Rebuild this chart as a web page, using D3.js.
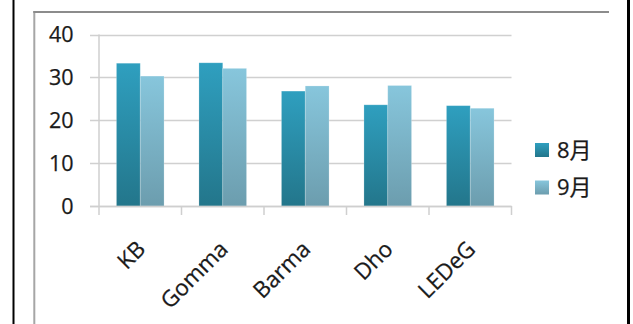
<!DOCTYPE html>
<html>
<head>
<meta charset="utf-8">
<script src="https://cdn.jsdelivr.net/npm/d3@7"></script>
<style>
  html, body { margin: 0; padding: 0; background: #fff; }
  svg { display: block; }
  text { font-family: "Open Sans", "Noto Sans CJK SC", sans-serif; fill: #1a1a1a; stroke: #1a1a1a; stroke-width: 0.25px; }
</style>
</head>
<body>
<svg id="chart" width="633" height="324"></svg>
<script>
// Monthly values per site
const categories = ["KB", "Gomma", "Barma", "Dho", "LEDeG"];
const seriesNames = ["8月", "9月"];
const augustValues = [33.3, 33.4, 26.8, 23.6, 23.4];
const septemberValues = [30.3, 32.1, 28.0, 28.1, 22.8];
const yTicks = [0, 10, 20, 30, 40];

const seriesValues = [augustValues, septemberValues];
const gradients = [
  { id: "grad-aug", top: "#2f9fbf", bottom: "#23768b" },
  { id: "grad-sep", top: "#87c6dc", bottom: "#6c9dae" }
];

const svg = d3.select("#chart");
const W = 633, H = 324;

// Gradient fills for the bars and legend swatches
const defs = svg.append("defs");
gradients.forEach(g => {
  const lg = defs.append("linearGradient")
    .attr("id", g.id).attr("x1", 0).attr("y1", 0).attr("x2", 0).attr("y2", 1);
  lg.append("stop").attr("offset", "0%").attr("stop-color", g.top);
  lg.append("stop").attr("offset", "100%").attr("stop-color", g.bottom);
});

// Outer page frame and inner chart frame
svg.append("line").attr("x1", 13.5).attr("x2", 13.5).attr("y1", 0).attr("y2", H)
  .attr("stroke", "#000").attr("stroke-width", 2);
svg.append("line").attr("x1", 628.5).attr("x2", 628.5).attr("y1", 0).attr("y2", H)
  .attr("stroke", "#000").attr("stroke-width", 3);
svg.append("line").attr("x1", 34.3).attr("x2", 34.3).attr("y1", 11).attr("y2", H)
  .attr("stroke", "#a6a6a6").attr("stroke-width", 2);
svg.append("line").attr("x1", 33.3).attr("x2", 609).attr("y1", 12).attr("y2", 12)
  .attr("stroke", "#8c8c8c").attr("stroke-width", 2);

// Scales
const plotLeft = 99, plotRight = 511.5, plotTop = 34.5, plotBottom = 206;
const y = d3.scaleLinear().domain([0, 40]).range([plotBottom, plotTop]);
const x = d3.scaleBand().domain(categories).range([plotLeft, plotRight]).padding(0);
const x1 = d3.scaleBand().domain(seriesNames).range([0, x.bandwidth()])
  .paddingInner(0).paddingOuter(0.733);

// Horizontal gridlines (extend left past the axis as tick marks)
svg.append("g").selectAll("line").data(yTicks).join("line")
  .attr("x1", 90).attr("x2", plotRight)
  .attr("y1", d => Math.round(y(d)) + 0.5).attr("y2", d => Math.round(y(d)) + 0.5)
  .attr("stroke", "#d0d0d0").attr("stroke-width", 1.5);

// Vertical value axis line
svg.append("line")
  .attr("x1", plotLeft).attr("x2", plotLeft)
  .attr("y1", y(40)).attr("y2", plotBottom)
  .attr("stroke", "#cfcfcf").attr("stroke-width", 1.5);

// Y tick labels
svg.append("g").selectAll("text").data(yTicks).join("text")
  .attr("x", 73.5).attr("y", d => y(d))
  .attr("dy", "0.36em")
  .attr("text-anchor", "end")
  .attr("font-size", 21.5)
  .text(d => d);

// Category tick marks below the baseline
const boundaries = categories.map(c => x(c)).concat([plotRight]);
svg.append("g").selectAll("line").data(boundaries).join("line")
  .attr("x1", d => d).attr("x2", d => d)
  .attr("y1", plotBottom).attr("y2", plotBottom + 9)
  .attr("stroke", "#cfcfcf").attr("stroke-width", 1.5);

// Bars
const groups = svg.append("g").selectAll("g").data(categories).join("g")
  .attr("transform", c => `translate(${x(c)},0)`);
groups.selectAll("rect")
  .data((c, i) => seriesNames.map((s, k) => ({ s, k, v: seriesValues[k][i] })))
  .join("rect")
  .attr("x", d => x1(d.s))
  .attr("width", x1.bandwidth())
  .attr("y", d => y(d.v))
  .attr("height", d => plotBottom - y(d.v))
  .attr("fill", d => `url(#${gradients[d.k].id})`)
  .attr("stroke", "rgba(255,255,255,0.25)").attr("stroke-width", 0.8);

// Baseline over the bars
svg.append("line")
  .attr("x1", 90).attr("x2", plotRight)
  .attr("y1", plotBottom + 0.5).attr("y2", plotBottom + 0.5)
  .attr("stroke", "#cfcfcf").attr("stroke-width", 1.5);

// Rotated category labels
svg.append("g").selectAll("text").data(categories).join("text")
  .attr("transform", c => `translate(${x(c) + x.bandwidth() / 2 + 1},245) rotate(-45)`)
  .attr("text-anchor", "end")
  .attr("dy", "0.35em")
  .attr("font-size", 22.5)
  .text(c => c);

// Legend
const legend = svg.append("g").selectAll("g").data(seriesNames).join("g")
  .attr("transform", (s, i) => `translate(535,${143 + i * 37.5})`);
legend.append("rect")
  .attr("width", 14).attr("height", 14)
  .attr("fill", (s, i) => `url(#${gradients[i].id})`);
legend.append("text")
  .attr("x", 22).attr("y", 7).attr("dy", "0.36em")
  .attr("font-size", 22)
  .text(s => s);
</script>
</body>
</html>
